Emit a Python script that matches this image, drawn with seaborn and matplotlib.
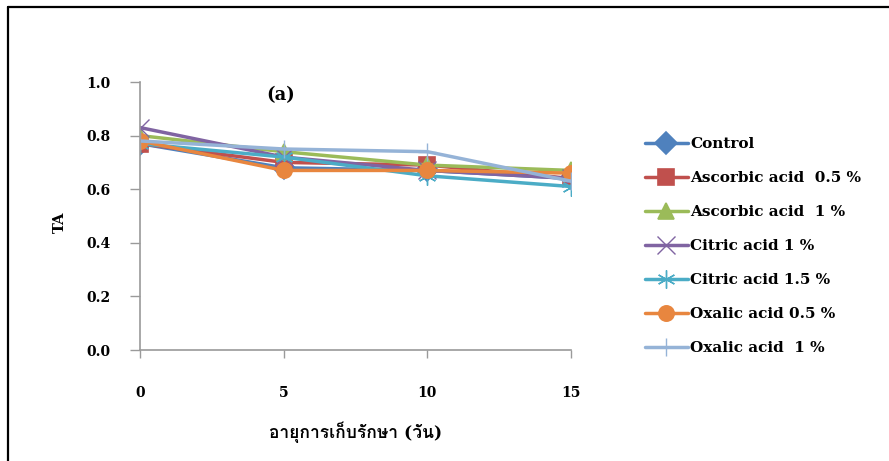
import matplotlib
matplotlib.use("Agg")
import matplotlib.pyplot as plt
from matplotlib import font_manager
from matplotlib.ft2font import FT2Font
from matplotlib.lines import Line2D
import seaborn as sns
import pandas as pd

# ---------------- data ----------------
days = [0, 5, 10, 15]
series_names = [
    "Control",
    "Ascorbic acid  0.5 %",
    "Ascorbic acid  1 %",
    "Citric acid 1 %",
    "Citric acid 1.5 %",
    "Oxalic acid 0.5 %",
    "Oxalic acid  1 %",
]
control = [0.77, 0.68, 0.67, 0.64]
ascorbic_05 = [0.77, 0.70, 0.69, 0.64]
ascorbic_1 = [0.80, 0.74, 0.69, 0.67]
citric_1 = [0.83, 0.72, 0.67, 0.64]
citric_15 = [0.77, 0.72, 0.65, 0.61]
oxalic_05 = [0.78, 0.67, 0.67, 0.66]
oxalic_1 = [0.78, 0.75, 0.74, 0.63]
y_ticks = [0.0, 0.2, 0.4, 0.6, 0.8, 1.0]
x_label = "อายุการเก็บรักษา (วัน)"
y_label = "TA"
panel_label = "(a)"

values = [control, ascorbic_05, ascorbic_1, citric_1, citric_15, oxalic_05, oxalic_1]
colors = ["#4F81BD", "#C0504D", "#9BBB59", "#8064A2", "#4BACC6", "#E8863F", "#95B3D7"]
markers = ["D", "s", "^", "x", (6, 2, 0), "o", "+"]

rows = []
for name, vals in zip(series_names, values):
    for d, v in zip(days, vals):
        rows.append({"day": d, "TA": v, "series": name})
df = pd.DataFrame(rows)

# ---------------- fonts ----------------
def find_thai_family():
    for f in font_manager.fontManager.ttflist:
        try:
            cm = FT2Font(f.fname).get_charmap()
        except Exception:
            continue
        if ord("อ") in cm and ord("ั") in cm:
            return f.name
    return None

thai = find_thai_family()
serif_list = ["DejaVu Serif"] + ([thai] if thai else []) + ["DejaVu Sans"]

sns.set_theme(style="white")
plt.rcParams["font.family"] = serif_list
plt.rcParams["font.weight"] = "bold"
plt.rcParams["text.color"] = "black"
plt.rcParams["axes.labelcolor"] = "black"

fig = plt.figure(figsize=(8.89, 4.61), dpi=100)
ax = fig.add_axes([140 / 889, 111 / 461, 431 / 889, 268 / 461])

for name, color, mk in zip(series_names, colors, markers):
    sub = df[df["series"] == name]
    line_art = mk in ("x", "+") or isinstance(mk, tuple)
    sns.lineplot(
        data=sub, x="day", y="TA", color=color, marker=mk, label=name,
        linewidth=2.5, markersize=13 if line_art else 11,
        markeredgewidth=1.0 if line_art else 1.2,
        markeredgecolor=color, ax=ax,
    )

ax.set_xlim(0, 15)
ax.set_ylim(0, 1.0)
ax.set_xticks(days)
ax.set_xticklabels([str(d) for d in days])
ax.set_yticks(y_ticks)
ax.set_yticklabels([f"{t:.1f}" for t in y_ticks])
for s in ["top", "right"]:
    ax.spines[s].set_visible(False)
for s in ["left", "bottom"]:
    ax.spines[s].set_color("#9a9a9a")
    ax.spines[s].set_linewidth(1.2)
ax.tick_params(axis="y", direction="out", length=7, width=1, color="#9a9a9a",
               labelcolor="black", pad=14, labelsize=10, left=True)
ax.tick_params(axis="x", direction="out", length=6, width=1, color="#9a9a9a",
               labelcolor="black", pad=20, labelsize=10, bottom=True)
for lab in ax.get_xticklabels() + ax.get_yticklabels():
    lab.set_fontweight("bold")
ax.set_xlabel(x_label, fontsize=12.5, fontweight="bold", color="black")
ax.set_ylabel(y_label, fontsize=10.5, fontweight="bold", color="black")
ax.xaxis.set_label_coords(0.501, -(421 - 350) / 268)
ax.yaxis.set_label_coords(-(140 - 67) / 431, 0.478)
ax.patch.set_alpha(0)

handles, labels = ax.get_legend_handles_labels()
if ax.get_legend() is not None:
    ax.get_legend().remove()
leg = fig.legend(handles, labels, loc="upper left",
                 bbox_to_anchor=(645 / 889, 1 - 137 / 461),
                 frameon=False, fontsize=11, handlelength=2.8, handletextpad=0.15,
                 labelspacing=1.31, borderpad=0, borderaxespad=0)
for t in leg.get_texts():
    t.set_fontweight("bold")
    t.set_color("black")

fig.text(281 / 889, 1 - 95 / 461, panel_label, fontsize=13, fontweight="bold",
         ha="center", va="center", color="black")

# outer frame (left and top edges visible)
fig.add_artist(Line2D([8 / 889, 8 / 889], [0, 1 - 7 / 461], transform=fig.transFigure,
                      color="black", linewidth=1.6))
fig.add_artist(Line2D([8 / 889, 1], [1 - 7 / 461, 1 - 7 / 461], transform=fig.transFigure,
                      color="black", linewidth=1.6))

fig.savefig("out.png", dpi=100)
